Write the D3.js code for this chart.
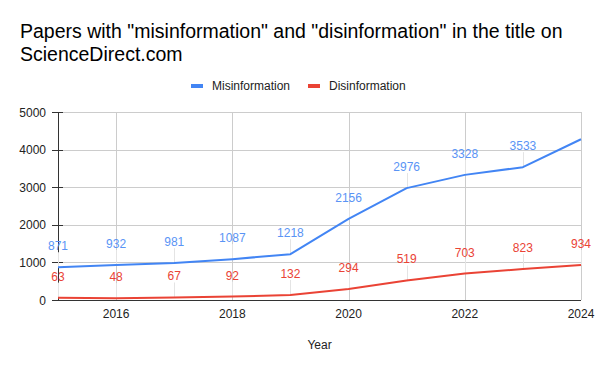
<!DOCTYPE html>
<html>
<head>
<meta charset="utf-8">
<script src="https://cdn.jsdelivr.net/npm/d3@7"></script>
<style>
  body { margin: 0; background: #fff; }
  text { font-family: "Liberation Sans", Arial, sans-serif; }
</style>
</head>
<body>
<svg id="chart" width="600" height="371"></svg>
<script>
const years = [2015, 2016, 2017, 2018, 2019, 2020, 2021, 2022, 2023, 2024]
const misinformation = [871, 932, 981, 1087, 1218, 2156, 2976, 3328, 3533, 4275]
const disinformation = [63, 48, 67, 92, 132, 294, 519, 703, 823, 934]
const yTicks = [0, 1000, 2000, 3000, 4000, 5000]
const xTicks = [2016, 2018, 2020, 2022, 2024]

const series = [
  {name: 'Misinformation', values: misinformation, color: '#4285f4', labelColor: '#5a94f5', labelled: d => d.year !== 2024},
  {name: 'Disinformation', values: disinformation, color: '#ea4335', labelColor: '#ea4335', labelled: d => true}
]

const svg = d3.select('#chart')
svg.append('rect').attr('width', 600).attr('height', 371).attr('fill', '#fff')

const plotL = 58, plotR = 581, plotT = 112, plotB = 300

const x = d3.scaleLinear().domain([2015, 2024]).range([plotL, plotR])
const y = d3.scaleLinear().domain([0, 5000]).range([plotB, plotT])

// title
const title = svg.append('text')
  .attr('x', 20).attr('y', 37.5)
  .style('font-size', '19.5px').attr('fill', '#000')
title.append('tspan').attr('x', 20).text('Papers with "misinformation" and "disinformation" in the title on')
title.append('tspan').attr('x', 20).attr('dy', 23.5).text('ScienceDirect.com')

// legend
const legend = [
  {name: 'Misinformation', color: '#4285f4', x: 191},
  {name: 'Disinformation', color: '#ea4335', x: 308}
]
const lg = svg.append('g').selectAll('g').data(legend).join('g')
  .attr('transform', d => `translate(${d.x},86)`)
lg.append('rect').attr('x', 0).attr('y', -2).attr('width', 12).attr('height', 4).attr('fill', d => d.color)
lg.append('text').attr('x', 21).attr('y', 4)
  .style('font-size', '12px').attr('fill', '#222').text(d => d.name)

// gridlines
const grid = svg.append('g')
grid.selectAll('.hg').data(yTicks.filter(t => t > 0)).join('line')
  .attr('x1', plotL).attr('x2', plotR)
  .attr('y1', d => Math.round(y(d)) + 0.5).attr('y2', d => Math.round(y(d)) + 0.5)
  .attr('stroke', '#cccccc')
grid.selectAll('.vg').data(xTicks).join('line')
  .attr('x1', d => Math.round(x(d)) + 0.5).attr('x2', d => Math.round(x(d)) + 0.5)
  .attr('y1', plotT).attr('y2', plotB)
  .attr('stroke', '#cccccc')

// y axis
const yAxis = svg.append('g')
yAxis.append('line')
  .attr('x1', plotL + 0.5).attr('x2', plotL + 0.5).attr('y1', plotT).attr('y2', plotB)
  .attr('stroke', '#333')
yAxis.selectAll('.tk').data(yTicks).join('line')
  .attr('x1', 52).attr('x2', 63)
  .attr('y1', d => Math.round(y(d)) + 0.5).attr('y2', d => Math.round(y(d)) + 0.5)
  .attr('stroke', '#333')
yAxis.selectAll('text').data(yTicks).join('text')
  .attr('x', 46).attr('y', d => y(d) + 4.5)
  .attr('text-anchor', 'end')
  .style('font-size', '12px').attr('fill', '#222')
  .text(d => d)

// x axis
svg.append('line')
  .attr('x1', plotL).attr('x2', plotR).attr('y1', plotB + 0.5).attr('y2', plotB + 0.5)
  .attr('stroke', '#333')
svg.append('g').selectAll('text').data(xTicks).join('text')
  .attr('x', d => x(d)).attr('y', 318)
  .attr('text-anchor', 'middle')
  .style('font-size', '12px').attr('fill', '#222')
  .text(d => d)

svg.append('text')
  .attr('x', (plotL + plotR) / 2).attr('y', 349)
  .attr('text-anchor', 'middle')
  .style('font-size', '12px').attr('fill', '#222')
  .text('Year')

const line = d3.line().x(d => x(d.year)).y(d => y(d.value))

series.forEach(s => {
  const pts = years.map((yr, i) => ({year: yr, value: s.values[i]}))
  const lab = pts.filter(s.labelled)

  // annotation stems
  svg.append('g').selectAll('line').data(lab).join('line')
    .attr('x1', d => Math.round(x(d.year)) + 0.5).attr('x2', d => Math.round(x(d.year)) + 0.5)
    .attr('y1', d => y(d.value)).attr('y2', d => y(d.value) - 15)
    .attr('stroke', '#e4e4e4')

  svg.append('path').datum(pts)
    .attr('d', line)
    .attr('fill', 'none')
    .attr('stroke', s.color)
    .attr('stroke-width', 2)
    .attr('stroke-linejoin', 'round')

  svg.append('g').selectAll('text').data(lab).join('text')
    .attr('x', d => x(d.year)).attr('y', d => y(d.value) - 17)
    .attr('text-anchor', 'middle')
    .style('font-size', '12px').attr('fill', s.labelColor)
    .text(d => d.value)
})
</script>
</body>
</html>
